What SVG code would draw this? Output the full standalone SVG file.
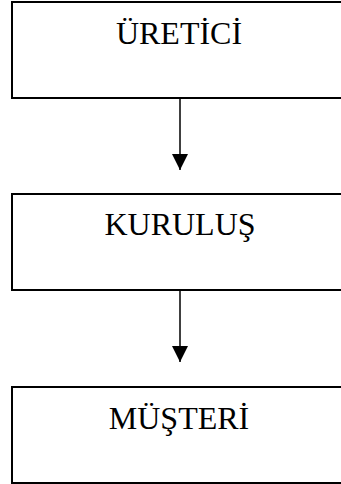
<svg xmlns="http://www.w3.org/2000/svg" width="341" height="484" viewBox="0 0 341 484">
  <style>
    .box { fill: #ffffff; stroke: #000000; stroke-width: 2; }
    .label { font-family: "Liberation Serif", "Times New Roman", serif; font-size: 32px; fill: #000000; text-anchor: middle; }
    .link { stroke: #000000; stroke-width: 1.5; fill: none; }
  </style>
  <defs>
    <marker id="arrow" viewBox="0 0 16 16" refX="16" refY="8" markerWidth="16" markerHeight="16" markerUnits="userSpaceOnUse" orient="auto">
      <path d="M0,0 L16,8 L0,16 Z" fill="#000000"/>
    </marker>
  </defs>
  <rect width="341" height="484" fill="#ffffff"/>
  <g id="uretici">
    <rect class="box" x="12" y="2" width="340" height="96"/>
    <text class="label" x="179" y="44">ÜRETİCİ</text>
  </g>
  <g id="kurulus">
    <rect class="box" x="12" y="194" width="340" height="96"/>
    <text class="label" x="180" y="235">KURULUŞ</text>
  </g>
  <g id="musteri">
    <rect class="box" x="12" y="387" width="340" height="96"/>
    <text class="label" x="179" y="429">MÜŞTERİ</text>
  </g>
  <g id="connectors">
    <line class="link" x1="180" y1="98" x2="180" y2="170" marker-end="url(#arrow)"/>
    <line class="link" x1="180" y1="290" x2="180" y2="362" marker-end="url(#arrow)"/>
  </g>
</svg>
